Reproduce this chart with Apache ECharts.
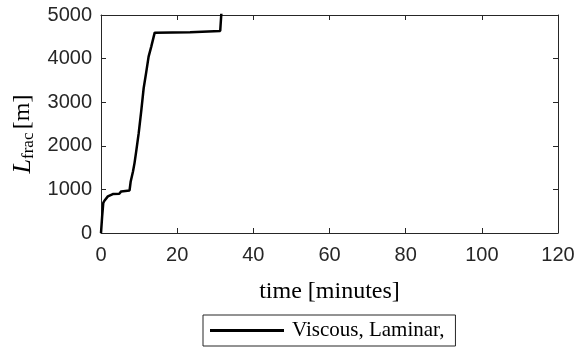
<!DOCTYPE html>
<html>
<head>
<meta charset="utf-8">
<script src="https://cdn.jsdelivr.net/npm/echarts@6/dist/echarts.min.js"></script>
<style>
  html, body { margin: 0; padding: 0; background: #fff; }
  #chart { width: 578px; height: 350px; }
</style>
</head>
<body>
<div id="chart"></div>
<script>
// time in minutes, fracture length in metres
const timeMin = [0, 0.3, 0.6, 0.9, 1.8, 3.1, 4.8, 5.3, 5.7, 7.5, 7.8, 8.4, 8.8, 9.3, 9.9, 10.6, 11.2, 11.9, 12.5, 13.2, 14.1, 23.4, 31.3, 31.6, 31.8]
const lengthM = [0, 380, 690, 740, 840, 893, 900, 954, 977, 977, 1183, 1412, 1603, 1908, 2290, 2824, 3320, 3702, 4046, 4275, 4595, 4603, 4634, 4634, 5300]
const seriesName = 'Viscous, Laminar,'
const xTicks = [0, 20, 40, 60, 80, 100, 120]
const yTicks = [0, 1000, 2000, 3000, 4000, 5000]

const axisColor = '#262626'
const serif = '"Liberation Serif", "DejaVu Serif", serif'
const sans = '"Liberation Sans", Arial, sans-serif'

const chart = echarts.init(document.getElementById('chart'), null, { renderer: 'canvas' })

const baseX = {
  type: 'value',
  min: xTicks[0],
  max: xTicks[xTicks.length - 1],
  interval: 20,
  axisLine: { show: true, onZero: false, lineStyle: { color: axisColor, width: 1 } },
  axisTick: { show: true, inside: true, length: 5, lineStyle: { color: axisColor } },
  splitLine: { show: false }
}
const baseY = {
  type: 'value',
  min: yTicks[0],
  max: yTicks[yTicks.length - 1],
  interval: 1000,
  axisLine: { show: true, onZero: false, lineStyle: { color: axisColor, width: 1 } },
  axisTick: { show: true, inside: true, length: 5, lineStyle: { color: axisColor } },
  splitLine: { show: false }
}

chart.setOption({
  animation: false,
  backgroundColor: '#fff',
  grid: { left: 101, right: 20, top: 15, bottom: 117, containLabel: false },
  legend: {
    data: [{ name: seriesName, icon: 'path://M0,0 L74,0 L74,3 L0,3 Z' }],
    left: 203,
    top: 315,
    itemWidth: 74,
    itemHeight: 3,
    itemGap: 0,
    padding: [5, 11, 5, 7],
    borderColor: '#262626',
    borderWidth: 1,
    borderRadius: 0,
    textStyle: { fontFamily: serif, fontSize: 21, color: '#000', padding: [0, 0, 0, 3] }
  },
  xAxis: [
    Object.assign({}, baseX, {
      position: 'bottom',
      name: 'time [minutes]',
      nameLocation: 'middle',
      nameGap: 47,
      nameTextStyle: { fontFamily: serif, fontSize: 24, color: '#000' },
      axisLabel: {
        fontFamily: sans, fontSize: 20, color: axisColor, margin: 12,
        formatter: v => String(v)
      }
    }),
    Object.assign({}, baseX, { position: 'top', axisLabel: { show: false } })
  ],
  yAxis: [
    Object.assign({}, baseY, {
      position: 'left',
      name: '{l|L}{s|frac} {m|[m]}',
      nameLocation: 'middle',
      nameGap: 64,
      nameRotate: 90,
      nameTextStyle: {
        color: '#000',
        padding: [0, 20, 0, 0],
        rich: {
          l: { fontFamily: serif, fontStyle: 'italic', fontSize: 26, color: '#000' },
          s: { fontFamily: serif, fontSize: 17, color: '#000', verticalAlign: 'bottom', padding: [10, 0, 0, 0] },
          m: { fontFamily: serif, fontSize: 24, color: '#000' }
        }
      },
      axisLabel: {
        fontFamily: sans, fontSize: 20, color: axisColor, margin: 9,
        formatter: v => String(v)
      }
    }),
    Object.assign({}, baseY, { position: 'right', axisLabel: { show: false } })
  ],
  series: [{
    name: seriesName,
    type: 'line',
    data: timeMin.map((t, i) => [t, lengthM[i]]),
    showSymbol: false,
    symbol: 'none',
    clip: true,
    lineStyle: { color: '#000', width: 2.5 },
    itemStyle: { color: '#000' }
  }]
})
</script>
</body>
</html>
